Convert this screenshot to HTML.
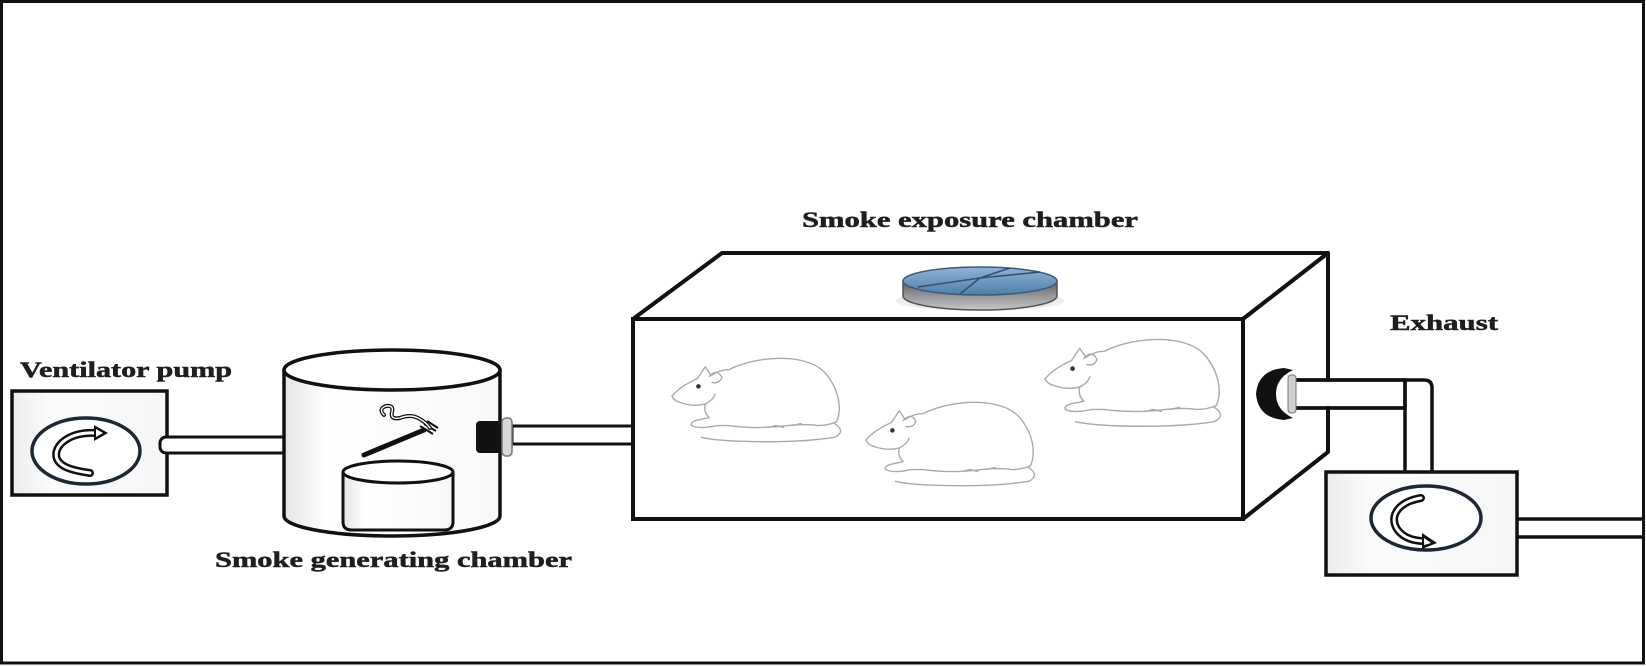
<!DOCTYPE html>
<html>
<head>
<meta charset="utf-8">
<style>
  html, body { margin:0; padding:0; background:#fff; }
  body { width:1646px; height:666px; overflow:hidden; }
  svg { display:block; }
  .lbl { font-family:"Liberation Serif", serif; font-weight:bold; font-size:22px; fill:#1e1e1e; stroke:#1e1e1e; stroke-width:0.5; }
</style>
</head>
<body>
<svg width="1646" height="666" viewBox="0 0 1646 666" xmlns="http://www.w3.org/2000/svg">
  <defs>
    <linearGradient id="discTop" x1="0" y1="0" x2="0" y2="1">
      <stop offset="0" stop-color="#8fb4d6"/>
      <stop offset="1" stop-color="#4f7ea8"/>
    </linearGradient>
    <linearGradient id="discSide" x1="0" y1="0" x2="0" y2="1">
      <stop offset="0" stop-color="#5c6066"/>
      <stop offset="1" stop-color="#c8c8c8"/>
    </linearGradient>
    <linearGradient id="boxFill" x1="0" y1="0" x2="1" y2="0">
      <stop offset="0" stop-color="#ececec"/>
      <stop offset="0.25" stop-color="#fbfbfb"/>
      <stop offset="1" stop-color="#f6f6f6"/>
    </linearGradient>
    <linearGradient id="cylFill" x1="0" y1="0" x2="1" y2="0">
      <stop offset="0" stop-color="#e4e4e4"/>
      <stop offset="0.2" stop-color="#fff"/>
      <stop offset="1" stop-color="#f8f8f8"/>
    </linearGradient>
    <g id="rat" fill="none" stroke="#a9a9a9" stroke-width="1.4" stroke-linecap="round" stroke-linejoin="round">
      <path d="M2,42 Q10,32 28,24 L36,12 L42,21 Q50,15 60,15 C90,0 140,-2 158,18 C172,34 176,54 170,68"/>
      <path d="M40,22 Q48,13 53,23 Q50,30 43,28"/>
      <path d="M2,42 Q4,47 12,49 Q24,53 36,50 Q44,46 46,40"/>
      <path d="M36,50 Q34,58 40,64 L30,66 Q20,68 22,72 Q30,76 48,72 L60,72"/>
      <path d="M60,72 Q90,76 120,72 Q140,70 150,72 Q162,72 170,68"/>
      <path d="M168,70 Q180,78 168,84 Q130,90 70,88 Q45,87 32,84"/>
      <path d="M100,74 L108,72 L116,74 M124,72 L134,70"/>
      <circle cx="29" cy="32" r="2.3" fill="#333" stroke="none"/>
    </g>
  </defs>

  <!-- outer frame -->
  <rect x="1.5" y="1.5" width="1642" height="661.5" fill="#fff" stroke="#111" stroke-width="3"/>

  <!-- Labels -->
  <text class="lbl" x="20" y="377" textLength="212" lengthAdjust="spacingAndGlyphs">Ventilator pump</text>
  <text class="lbl" x="215" y="567" textLength="357" lengthAdjust="spacingAndGlyphs">Smoke generating chamber</text>
  <text class="lbl" x="802" y="227" textLength="336" lengthAdjust="spacingAndGlyphs">Smoke exposure chamber</text>
  <text class="lbl" x="1390" y="330" textLength="108" lengthAdjust="spacingAndGlyphs">Exhaust</text>

  <!-- Ventilator pump box -->
  <rect x="12" y="391" width="155" height="104" fill="url(#boxFill)" stroke="#111" stroke-width="3.5"/>
  <ellipse cx="86" cy="451" rx="54" ry="33" fill="#fff" stroke="#1d2735" stroke-width="3.5"/>
  <path d="M96,433 C70,431 52,446 57,459 C61,468 76,471 90,473" fill="none" stroke="#111" stroke-width="8" stroke-linecap="round"/>
  <path d="M96,433 C70,431 52,446 57,459 C61,468 76,471 90,473" fill="none" stroke="#fff" stroke-width="3" stroke-linecap="round"/>
  <polygon points="94,425 108,433 94,441" fill="#111"/>
  <polygon points="96,429 103,433 96,437" fill="#fff"/>

  <!-- pipe 1 -->
  <rect x="160" y="437" width="128" height="16" rx="6" fill="#fff" stroke="#111" stroke-width="3"/>

  <!-- Smoke generating cylinder -->
  <path d="M284,370 L284,516 A108,20 0 0 0 500,516 L500,370" fill="url(#cylFill)" stroke="#111" stroke-width="3.5"/>
  <ellipse cx="392" cy="370" rx="108" ry="20" fill="#fff" stroke="#111" stroke-width="3.5"/>

  <!-- inner cylinder -->
  <path d="M343,472 L343,522 Q343,530 352,530 L444,530 Q453,530 453,522 L453,472" fill="url(#cylFill)" stroke="#111" stroke-width="3"/>
  <ellipse cx="398" cy="472" rx="55" ry="11" fill="#fff" stroke="#111" stroke-width="3"/>

  <!-- cigarette -->
  <line x1="364" y1="455" x2="424" y2="430" stroke="#111" stroke-width="5" stroke-linecap="round"/>
  <path d="M420,426 L433,434 M424,424 L436,431 M427,421 L438,428" stroke="#111" stroke-width="2" fill="none"/>
  <path d="M384,415 Q378,409 386,406 Q394,405 392,412 Q390,420 400,418 Q410,414 418,418 Q426,422 430,428" fill="none" stroke="#111" stroke-width="4" stroke-linecap="round"/>
  <path d="M384,415 Q378,409 386,406 Q394,405 392,412 Q390,420 400,418 Q410,414 418,418 Q426,422 430,428" fill="none" stroke="#fff" stroke-width="1.4" stroke-linecap="round"/>

  <!-- connector to exposure chamber -->
  <rect x="512" y="426" width="124" height="18" fill="#fff" stroke="#111" stroke-width="3"/>
  <rect x="476" y="421" width="28" height="32" rx="4" fill="#111"/>
  <rect x="502" y="418" width="10" height="38" rx="4" fill="#d8d8d8" stroke="#777" stroke-width="1.5"/>

  <!-- Exposure chamber box -->
  <polygon points="633,319 722,253 1328,253 1243,319" fill="#fff" stroke="#111" stroke-width="4" stroke-linejoin="round"/>
  <polygon points="1243,319 1328,253 1328,452 1243,519" fill="#fff" stroke="#111" stroke-width="4" stroke-linejoin="round"/>
  <rect x="633" y="319" width="610" height="200" fill="#fff" stroke="#111" stroke-width="4"/>

  <!-- disc on top -->
  <ellipse cx="980" cy="301" rx="84" ry="10" fill="#e6e6e6" opacity="0.7"/>
  <path d="M903,281 L903,296 A77,14 0 0 0 1057,296 L1057,281 Z" fill="url(#discSide)" stroke="#555" stroke-width="1.5"/>
  <ellipse cx="980" cy="281" rx="77" ry="14" fill="url(#discTop)" stroke="#3d5a78" stroke-width="1.5"/>
  <path d="M918,287 L980,278 L1040,272 M980,278 L1010,268 M960,294 L980,278" stroke="#34526f" stroke-width="1.6" fill="none"/>

  <!-- rats -->
  <use href="#rat" transform="translate(670,355) scale(0.98)"/>
  <use href="#rat" transform="translate(864,399) scale(0.98)"/>
  <use href="#rat" transform="translate(1043,336) scale(1.02)"/>

  <!-- exhaust connector & elbow pipe -->
  <path d="M1290,380 L1424,380 Q1432,380 1432,388 L1432,472 M1290,408 L1405,408 L1405,472 M1405,380 L1405,408" fill="none" stroke="#111" stroke-width="3.5"/>
  <rect x="1290" y="382" width="113" height="24" fill="#fff"/>
  <path d="M1290,380 L1405,380 L1405,408 L1290,408" fill="none" stroke="#111" stroke-width="3.5"/>
  <path d="M1284,368 Q1258,370 1256,394 Q1258,418 1284,420 L1293,418 Q1276,410 1276,394 Q1276,378 1293,370 Z" fill="#111"/>
  <rect x="1288" y="375" width="8" height="38" rx="3" fill="#cfcfcf" stroke="#777" stroke-width="1"/>

  <!-- exhaust box -->
  <rect x="1326" y="472" width="191" height="103" fill="url(#boxFill)" stroke="#111" stroke-width="3.5"/>
  <ellipse cx="1426" cy="518" rx="55" ry="32" fill="#fff" stroke="#1d2735" stroke-width="3.5"/>
  <path d="M1421,498 C1398,502 1389,516 1397,529 C1403,538 1414,541 1424,541" fill="none" stroke="#111" stroke-width="8" stroke-linecap="round"/>
  <path d="M1421,498 C1398,502 1389,516 1397,529 C1403,538 1414,541 1424,541" fill="none" stroke="#fff" stroke-width="3" stroke-linecap="round"/>
  <polygon points="1422,533 1437,543 1422,549" fill="#111"/>
  <polygon points="1424,538 1431,543 1424,545" fill="#fff"/>

  <!-- exit pipe -->
  <path d="M1517,519 L1643,519 M1517,537 L1643,537" stroke="#111" stroke-width="3.5" fill="none"/>
</svg>
</body>
</html>
